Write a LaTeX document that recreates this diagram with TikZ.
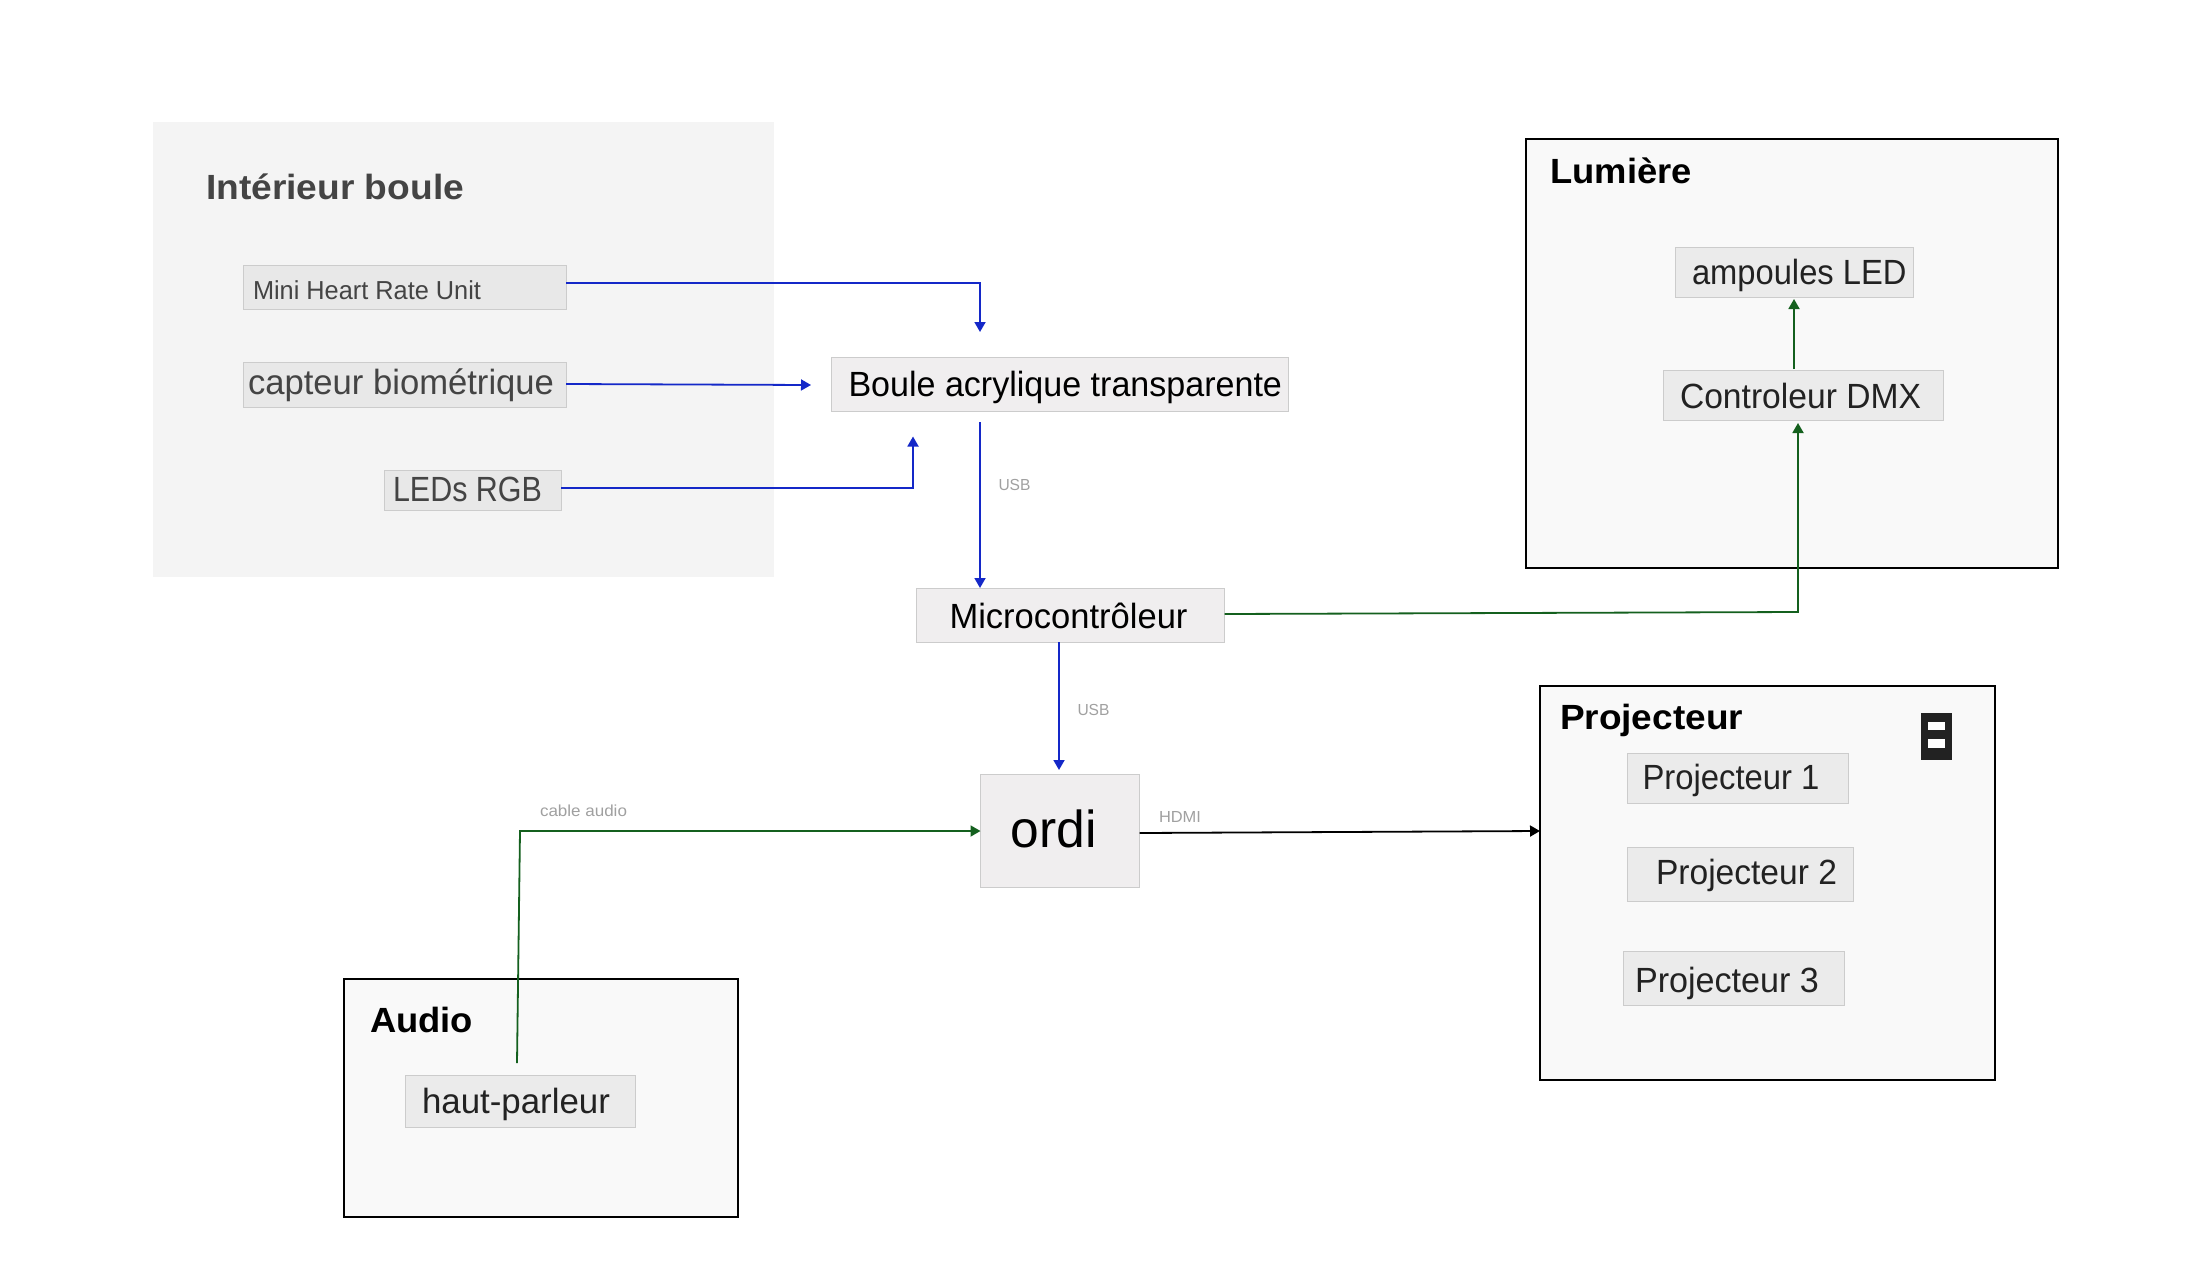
\documentclass[tikz,border=0pt]{standalone}
\usepackage{fontspec}
\setmainfont{Liberation Sans}
\usetikzlibrary{arrows.meta}
\definecolor{panelgray}{HTML}{F4F4F4}
\definecolor{innergray}{HTML}{E8E8E8}
\definecolor{softgray}{HTML}{EBEBEB}
\definecolor{maingray}{HTML}{F0EEEF}
\definecolor{groupfill}{HTML}{F9F9F9}
\definecolor{edgegray}{HTML}{CCCCCC}
\definecolor{usbblue}{HTML}{1428C8}
\definecolor{dmxgreen}{HTML}{14601E}
\definecolor{labelgray}{HTML}{A0A0A0}
\definecolor{darktext}{HTML}{222222}
\definecolor{dimtext}{HTML}{444444}
\newcommand{\fitw}[3]{\resizebox{#1pt}{\height}{\fontsize{#2pt}{#2pt}\selectfont #3}}
\tikzset{
  x=1pt,y=-1pt,
  boxat/.style n args={4}{minimum width=#3pt-#1pt,minimum height=#4pt-#2pt,at={(#1/2+#3/2,#2/2+#4/2)},inner sep=0pt,outer sep=0pt},
  panelbox/.style={fill=panelgray,draw=none},
  groupbox/.style={fill=groupfill,draw=black,line width=2pt},
  softbox/.style={fill=softgray,draw=edgegray,line width=1pt},
  innerbox/.style={fill=innergray,draw=edgegray,line width=1pt},
  mainbox/.style={fill=maingray,draw=edgegray,line width=1pt},
  txt/.style={anchor=base west,inner sep=0pt,outer sep=0pt},
  title/.style={txt,font=\bfseries},
  wire/.style={line width=1.8pt,-{Triangle[length=10pt,width=11pt]}},
  bluewire/.style={wire,draw=usbblue},
  greenwire/.style={wire,draw=dmxgreen},
  blackwire/.style={wire,draw=black},
  small/.style={txt,text=labelgray},
}
\begin{document}
\begin{tikzpicture}
\useasboundingbox (0,0) rectangle (2206,1285);
% panels
\node[panelbox,boxat={153}{122}{774}{577}] (panel) {};
\node[groupbox,boxat={1526}{139}{2058}{568}] (lumiere) {};
\node[groupbox,boxat={1540}{686}{1995}{1080}] (proj) {};
\node[groupbox,boxat={344}{979}{738}{1217}] (audio) {};
% titles
\node[title,text=dimtext] (tint) at (206,199) {\fitw{258}{35}{Intérieur boule}};
\node[title,text=black] (tlum) at (1550.5,183) {\fitw{141.5}{35}{Lumière}};
\node[title,text=black] (tproj) at (1560,729.5) {\fitw{183}{35}{Projecteur}};
\node[title,text=black] (taud) at (370,1032) {\fitw{103}{35}{Audio}};
% inner boxes
\node[innerbox,boxat={243.5}{265}{566}{309}] (mini) {};
\node[innerbox,boxat={243.5}{362}{566}{407}] (capt) {};
\node[innerbox,boxat={384}{470}{561}{510}] (leds) {};
\node[mainbox,boxat={831}{357}{1288}{411}] (boule) {};
\node[mainbox,boxat={916}{588}{1224.5}{642}] (micro) {};
\node[mainbox,boxat={980.5}{774}{1139.5}{887}] (ordi) {};
\node[softbox,boxat={1675}{247}{1913}{297}] (amp) {};
\node[softbox,boxat={1663}{370}{1943}{420}] (dmx) {};
\node[softbox,boxat={1627}{753}{1848.5}{803}] (p1) {};
\node[softbox,boxat={1627}{847}{1853.5}{901}] (p2) {};
\node[softbox,boxat={1623}{951}{1844.5}{1005}] (p3) {};
\node[softbox,boxat={405}{1075}{635}{1127}] (hp) {};
% texts
\node[txt,text=dimtext] (tmini) at (253,299) {\fitw{228}{26}{Mini Heart Rate Unit}};
\node[txt,text=dimtext] (tcapt) at (248,394) {\fitw{306}{35}{capteur biométrique}};
\node[txt,text=dimtext] (tleds) at (393,501) {\fitw{149}{35}{LEDs RGB}};
\node[txt,text=black] (tboule) at (848.5,396) {\fitw{433.5}{35}{Boule acrylique transparente}};
\node[txt,text=black] (tmicro) at (949.5,628) {\fitw{238}{35}{Microcontrôleur}};
\node[txt,text=black] (tordi) at (1010.5,847) {\fitw{86}{52}{ordi}};
\node[txt,text=darktext] (tamp) at (1692,284) {\fitw{214.5}{35}{ampoules LED}};
\node[txt,text=darktext] (tdmx) at (1680,408) {\fitw{241}{35}{Controleur DMX}};
\node[txt,text=darktext] (tp1) at (1642.5,789) {\fitw{177}{35}{Projecteur 1}};
\node[txt,text=darktext] (tp2) at (1656,884) {\fitw{181}{35}{Projecteur 2}};
\node[txt,text=darktext] (tp3) at (1635,992) {\fitw{184}{35}{Projecteur 3}};
\node[txt,text=darktext] (thp) at (422,1113) {\fitw{188}{35}{haut-parleur}};
% small labels
\node[small] (usba) at (998.5,490) {\fitw{32}{16}{USB}};
\node[small] (usbb) at (1077.5,715) {\fitw{32}{16}{USB}};
\node[small] (cab) at (540,816) {\fitw{87}{16}{cable audio}};
\node[small] (hdmi) at (1159,822) {\fitw{42}{16}{HDMI}};
% icon
\fill[darktext] (1921,713) rectangle (1952,760);
\fill[white] (1928,722) rectangle (1945,730);
\fill[white] (1928,739) rectangle (1945,748);
% free ends of connectors
\coordinate (miniend) at (980,332);
\coordinate (captend) at (811,385);
\coordinate (ledsend) at (913,436.5);
\coordinate (bouleout) at (980,422);
\coordinate (hpout) at (517,1063);
\coordinate (audiocorner) at (520,831);
% connectors
\draw[bluewire] ([yshift=4pt]mini.east) -| (miniend);
\draw[bluewire] ([yshift=0.5pt]capt.east) -- (captend);
\draw[bluewire] ([yshift=2pt]leds.east) -| (ledsend);
\draw[bluewire] (bouleout) -- (bouleout |- micro.north);
\draw[bluewire] (1059,642) -- (1059,770);
\draw[greenwire] ([yshift=1pt]micro.east) -- (1798,612) -- (1798,423);
\draw[greenwire] (1794,369) -- (1794,299);
\draw[greenwire] (hpout) -- (audiocorner) -- (audiocorner -| ordi.west);
\draw[blackwire] ([yshift=-2.5pt]ordi.east) -- ([yshift=52pt]proj.west);
\end{tikzpicture}
\end{document}
